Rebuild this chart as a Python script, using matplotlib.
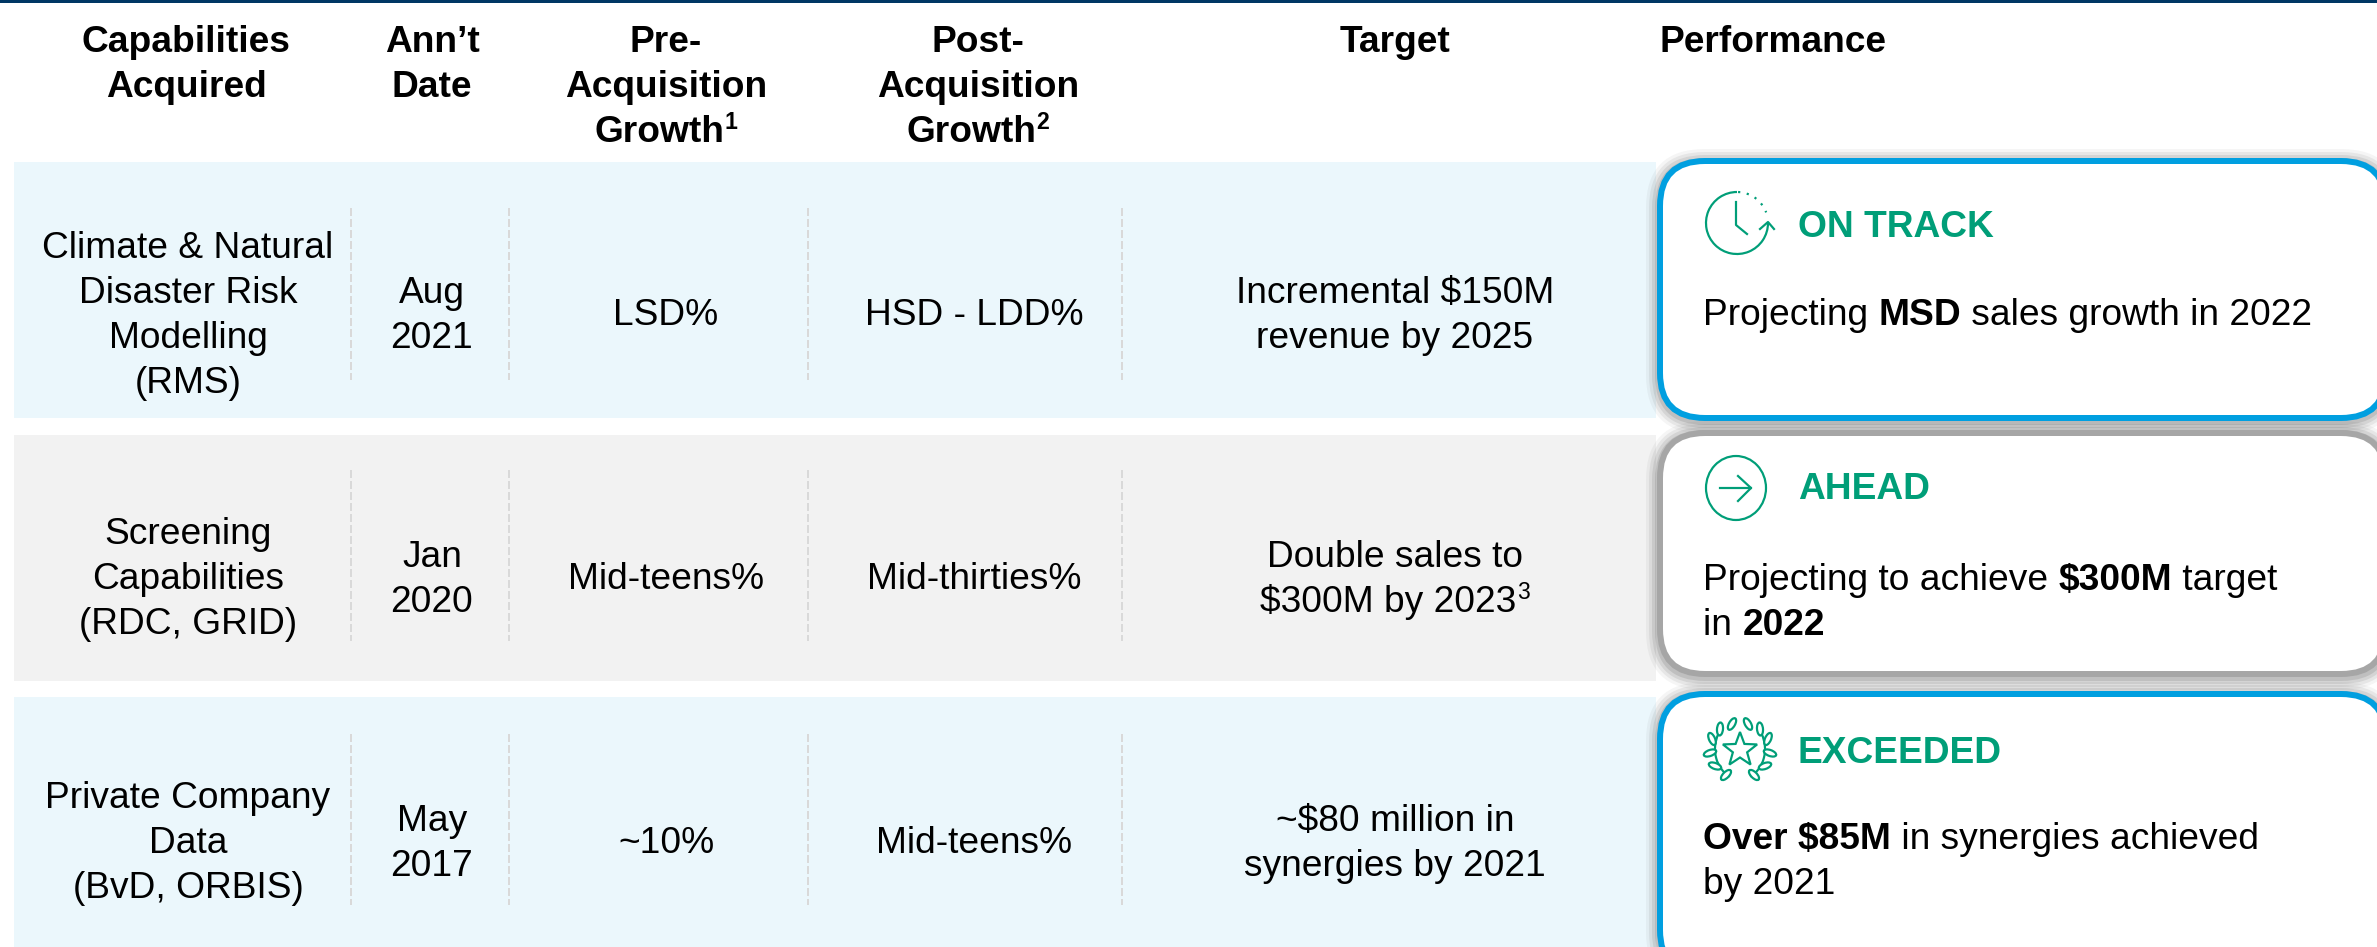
import numpy as np
import matplotlib
matplotlib.use("Agg")
import matplotlib.pyplot as plt
from matplotlib.patches import FancyBboxPatch, Ellipse, Arc, Rectangle, Polygon

plt.rcParams['font.family'] = ['Liberation Sans', 'DejaVu Sans']

headers = [["Capabilities", "Acquired"], ["Ann’t", "Date"],
           ["Pre-", "Acquisition", ("Growth", "1")], ["Post-", "Acquisition", ("Growth", "2")], ["Target"]]
capabilities = [["Climate & Natural", "Disaster Risk", "Modelling", "(RMS)"],
                ["Screening", "Capabilities", "(RDC, GRID)"],
                ["Private Company", "Data", "(BvD, ORBIS)"]]
dates = [["Aug", "2021"], ["Jan", "2020"], ["May", "2017"]]
pre_growth = [["LSD%"], ["Mid-teens%"], ["~10%"]]
post_growth = [["HSD - LDD%"], ["Mid-thirties%"], ["Mid-teens%"]]
targets = [["Incremental $150M", "revenue by 2025"],
           ["Double sales to", ("$300M by 2023", "3")],
           ["~$80 million in", "synergies by 2021"]]
statuses = ["ON TRACK", "AHEAD", "EXCEEDED"]
performance = [[[("Projecting ", False), ("MSD", True), (" sales growth in 2022", False)]],
               [[("Projecting to achieve ", False), ("$300M", True), (" target", False)],
                [("in ", False), ("2022", True)]],
               [[("Over $85M", True), (" in synergies achieved", False)],
                [("by 2021", False)]]]

W, H = 2377, 947
GREEN = "#009E78"
BLUE = "#009FE0"
GREY = "#A6A6A6"
PX = 72 / 100
FS = 37.1 * PX
LW = 2.2 * PX
LINE = 45

fig = plt.figure(figsize=(W / 100, H / 100), dpi=100)
ax = fig.add_axes([0, 0, 1, 1])
ax.set_xlim(0, W)
ax.set_ylim(H, 0)
ax.axis("off")
renderer = fig.canvas.get_renderer()


def put(x, y, s, bold=False, color="black", size=FS, ha="center"):
    return ax.text(x, y, s, fontsize=size, fontweight="bold" if bold else "normal", color=color,
                   ha=ha, va="baseline", parse_math=False, zorder=6)


def put_line(x, y, s, bold=False):
    if isinstance(s, str):
        put(x, y, s, bold)
        return
    # text with a superscript: place both so the pair stays centred
    base = put(x, y, s[0], bold, ha="left")
    sup = put(x, y - 13, s[1], bold, size=FS * 0.62, ha="left")
    w0 = base.get_window_extent(renderer).width
    w1 = sup.get_window_extent(renderer).width
    base.set_x(x - (w0 + w1) / 2)
    sup.set_x(x - (w0 + w1) / 2 + w0)


def centered(x, cy, lines, bold=False):
    for i, s in enumerate(lines):
        put_line(x, cy + 13 + (i - (len(lines) - 1) / 2) * LINE, s, bold)


def runs(x, y, parts):
    for s, b in parts:
        t = put(x, y, s, b, ha="left")
        x += t.get_window_extent(renderer).width


def card(y0, y1, color):
    x0, x1 = 1660, 2386
    for g, a in [(14, 0.06), (11, 0.09), (8, 0.12), (5, 0.16)]:
        ax.add_patch(FancyBboxPatch((x0 - g, y0 - g + 2), x1 - x0 + 2 * g, y1 - y0 + 2 * g,
                                    boxstyle="round,pad=0,rounding_size=%d" % (45 + g),
                                    fc="#555555", ec="none", alpha=a, zorder=3))
    ax.add_patch(FancyBboxPatch((x0, y0), x1 - x0, y1 - y0, boxstyle="round,pad=0,rounding_size=45",
                                fc="white", ec=color, lw=6 * PX, zorder=4))


def icon_clock(cx, cy):
    ax.add_patch(Arc((cx + 1, cy), 62, 62, theta1=0, theta2=270, ec=GREEN, lw=LW, zorder=6))
    ax.add_patch(Arc((cx + 1, cy), 62, 62, theta1=-88, theta2=-20, ec=GREEN, lw=LW, ls=(0, (1, 3)), zorder=6))
    ax.plot([cx, cx, cx + 11], [cy - 21, cy + 2, cy + 11], color=GREEN, lw=LW, zorder=6)
    ax.plot([cx + 24, cx + 32, cx + 38], [cy + 6, cy - 1, cy + 6], color=GREEN, lw=LW, zorder=6)


def icon_arrow(cx, cy):
    ax.add_patch(Ellipse((cx, cy), 60, 64, fc="none", ec=GREEN, lw=LW, zorder=6))
    ax.plot([cx - 16, cx + 15], [cy, cy], color=GREEN, lw=LW, zorder=6)
    ax.plot([cx + 2, cx + 15, cx + 2], [cy - 12, cy, cy + 13], color=GREEN, lw=LW, zorder=6)


def icon_wreath(cx, cy):
    ax.add_patch(Arc((cx, cy), 50, 60, theta1=-35, theta2=70, ec=GREEN, lw=LW, zorder=6))
    ax.add_patch(Arc((cx, cy), 50, 60, theta1=110, theta2=215, ec=GREEN, lw=LW, zorder=6))
    leaves = [(8, -25, -60), (20, -20, -85), (28, -10, 66), (30, 4, -20), (25, 17, 20), (14, 26, -45)]
    for dx, dy, tilt in leaves:
        ax.add_patch(Ellipse((cx - dx, cy + dy), 13, 6, angle=tilt, fc="white", ec=GREEN, lw=LW, zorder=6))
        ax.add_patch(Ellipse((cx + dx, cy + dy), 13, 6, angle=-tilt, fc="white", ec=GREEN, lw=LW, zorder=6))
    a = np.radians(np.arange(10) * 36 - 90)
    r = np.where(np.arange(10) % 2 == 0, 18, 7.5)
    ax.add_patch(Polygon(np.c_[cx + r * np.cos(a), cy + 1 + r * np.sin(a)], fc="none", ec=GREEN, lw=LW, zorder=6))


col_x = [188, 432, 666, 974, 1395]
header_x = [186, 432, 666, 978, 1395]
row_top = [162, 435, 697]
row_bot = [418, 681, 947]
row_cy = [312, 576, 840]
row_col = ["#EBF7FC", "#F2F2F2", "#EBF7FC"]
div_x = [351, 509, 808, 1122]
div_y = [(208, 380), (470, 641), (734, 905)]
card_y = [(161, 418), (433, 674), (694, 975)]
card_col = [BLUE, GREY, BLUE]
heading_y = [237, 499, 763]
body_y = [325, 590, 849]
icon_fn = [icon_clock, icon_arrow, icon_wreath]
icon_xy = [(1736, 223), (1736, 488), (1740, 749)]

ax.add_patch(Rectangle((0, 0), W, 3, fc="#003764", ec="none"))

for x, lines in zip(header_x, headers):
    for i, s in enumerate(lines):
        put_line(x, 52 + i * LINE, s, True)
put(1660, 52, "Performance", True, ha="left")

for r in range(3):
    ax.add_patch(Rectangle((14, row_top[r]), 1642, row_bot[r] - row_top[r], fc=row_col[r], ec="none", zorder=1))
    for x in div_x:
        ax.plot([x, x], div_y[r], color="#D9D9D9", lw=2 * PX, ls=(0, (4, 1.5)), zorder=2)
    for x, col in zip(col_x, [capabilities, dates, pre_growth, post_growth, targets]):
        centered(x, row_cy[r], col[r])
    card(card_y[r][0], card_y[r][1], card_col[r])
    icon_fn[r](*icon_xy[r])
    put(1798, heading_y[r], statuses[r], True, GREEN, ha="left")
    for i, parts in enumerate(performance[r]):
        runs(1703, body_y[r] + i * LINE, parts)

fig.savefig("out.png", dpi=100)
